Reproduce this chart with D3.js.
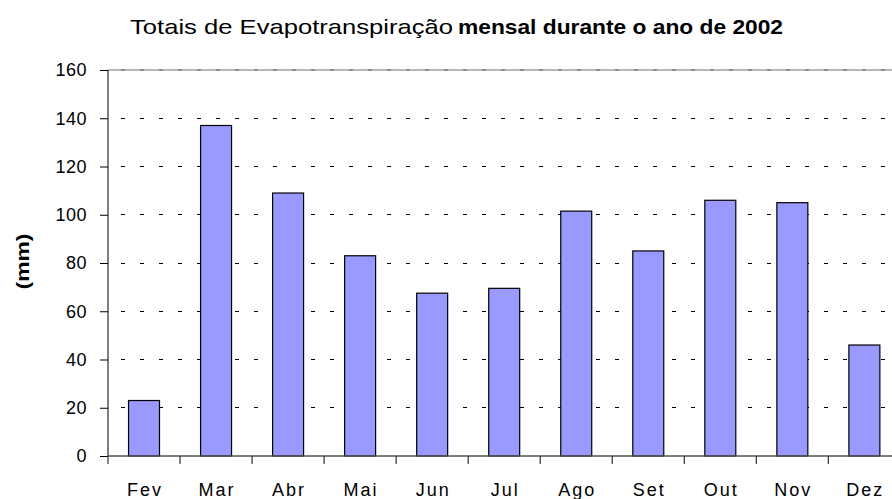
<!DOCTYPE html>
<html><head><meta charset="utf-8">
<script src="https://cdn.jsdelivr.net/npm/d3@7"></script>
<style>body{margin:0;background:#fff;} text{font-family:"Liberation Sans",Arial,sans-serif;}</style>
</head><body>
<svg id="c" width="892" height="499"></svg>
<script>
const months = ["Fev","Mar","Abr","Mai","Jun","Jul","Ago","Set","Out","Nov","Dez"];
const values = [23, 137, 109, 83, 67.5, 69.5, 101.5, 85, 106, 105, 46];
const yTicks = [0,20,40,60,80,100,120,140,160];

(function(){
const svg = d3.select("#c");
const pL = 108, pR = 900.4, pT = 70, pB = 456;
const x = d3.scaleBand().domain(months).range([pL, pR]).paddingInner(0.57).paddingOuter(0.285);
const y = d3.scaleLinear().domain([0,160]).range([pB, pT]);

// gridlines
svg.append("g").selectAll("line").data(yTicks.filter(d=>d>0 && d<160)).join("line")
  .attr("x1", pL).attr("x2", pR).attr("y1", d=>y(d)).attr("y2", d=>y(d))
  .attr("stroke","#000").attr("stroke-width",1).attr("stroke-dasharray","4,15").attr("stroke-dashoffset",-13)
  .attr("shape-rendering","crispEdges");
svg.append("line").attr("x1",pL).attr("x2",pR).attr("y1",y(160)).attr("y2",y(160))
  .attr("stroke","#a0a0a0").attr("stroke-width",1.5);
svg.append("line").attr("x1",pL).attr("x2",pR).attr("y1",y(160)).attr("y2",y(160))
  .attr("stroke","#808080").attr("stroke-width",1.5).attr("stroke-dasharray","4,15").attr("stroke-dashoffset",-13);

// bars
svg.append("g").selectAll("rect").data(values).join("rect")
  .attr("x",(d,i)=>x(months[i])).attr("width",x.bandwidth())
  .attr("y",d=>y(d)).attr("height",d=>pB-y(d))
  .attr("fill","#9999ff").attr("stroke","#000").attr("stroke-width",1.2);

// y axis
const ya = d3.axisLeft(y).tickValues(yTicks).tickSize(8).tickPadding(13).tickFormat(d3.format("d"));
const yg = svg.append("g").attr("transform",`translate(${pL},0)`).call(ya);
yg.select(".domain").attr("stroke","#000").attr("d",`M0,${pT}V${pB}`);
yg.selectAll("line").attr("stroke","#000");
yg.selectAll("text").attr("font-size",18).attr("fill","#000").attr("font-family","Liberation Sans, Arial, sans-serif")
  .attr("letter-spacing","0.5px");

// x axis
const step = x.step();
const xg = svg.append("g");
xg.append("line").attr("x1",pL).attr("x2",pR).attr("y1",pB).attr("y2",pB).attr("stroke","#555").attr("stroke-width",1.3);
xg.selectAll("line.t").data(d3.range(months.length)).join("line").attr("class","t")
  .attr("x1",i=>pL+i*step).attr("x2",i=>pL+i*step).attr("y1",pB).attr("y2",pB+8)
  .attr("stroke","#333").attr("stroke-width",1.2);
xg.selectAll("text").data(months).join("text")
  .attr("x",d=>x(d)+x.bandwidth()/2+1).attr("y",496)
  .attr("text-anchor","middle").attr("font-size",18).attr("letter-spacing","2px").text(d=>d);

// y label
svg.append("text").attr("transform","translate(29,261.5) rotate(-90)").attr("text-anchor","middle")
  .attr("font-size",18).attr("font-weight","bold").attr("textLength",56).attr("lengthAdjust","spacingAndGlyphs").text("(mm)");

// title
svg.append("text").attr("x",130).attr("y",34).attr("font-size",21)
  .attr("textLength",323).attr("lengthAdjust","spacingAndGlyphs").text("Totais de Evapotranspiração");
svg.append("text").attr("x",458).attr("y",34).attr("font-size",21).attr("font-weight","bold")
  .attr("textLength",325).attr("lengthAdjust","spacingAndGlyphs").text("mensal durante o ano de 2002");
})();
</script>
</body></html>
